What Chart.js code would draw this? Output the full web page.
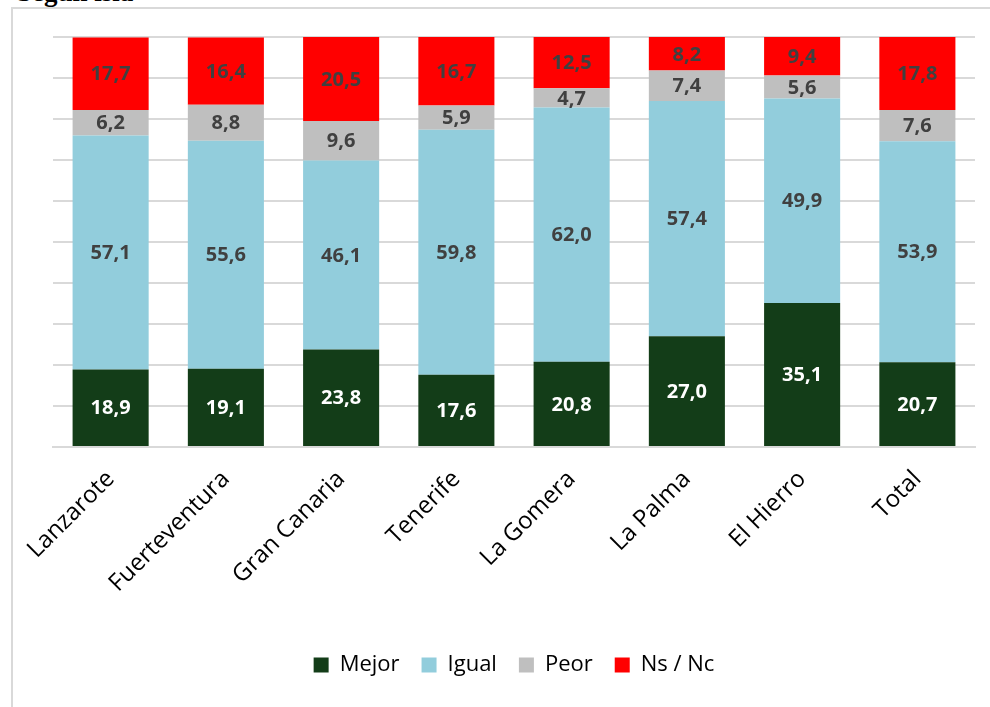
<!DOCTYPE html>
<html>
<head>
<meta charset="utf-8">
<script src="https://cdn.jsdelivr.net/npm/chart.js@4/dist/chart.umd.min.js"></script>
<style>
  html, body { margin: 0; padding: 0; background: #fff; }
  #wrap { position: relative; width: 990px; height: 707px; overflow: hidden; }
  #frame { position: absolute; left: 11px; top: 7px; width: 990px; height: 720px;
           border-left: 2px solid #d9d9d9; border-top: 2px solid #d9d9d9; }
  #title { position: absolute; left: 17px; top: -23px; font: bold 27px "Liberation Serif", serif; color: #000; }
  #cv { position: absolute; left: 0; top: 0; }
</style>
</head>
<body>
<div id="wrap">
  <div id="title">Según isla</div>
  <div id="frame"></div>
  <canvas id="cv" width="990" height="707"></canvas>
</div>
<script>
// Valoración según isla (%)
const islands = ["Lanzarote", "Fuerteventura", "Gran Canaria", "Tenerife", "La Gomera", "La Palma", "El Hierro", "Total"];
const mejor = [18.9, 19.1, 23.8, 17.6, 20.8, 27.0, 35.1, 20.7];
const igual = [57.1, 55.6, 46.1, 59.8, 62.0, 57.4, 49.9, 53.9];
const peor  = [6.2, 8.8, 9.6, 5.9, 4.7, 7.4, 5.6, 7.6];
const nsnc  = [17.7, 16.4, 20.5, 16.7, 12.5, 8.2, 9.4, 17.8];

const FONT = "'Open Sans', 'Noto Sans', sans-serif";

// draw the value inside each bar segment
const barLabels = {
  id: "barLabels",
  afterDatasetsDraw(chart) {
    const ctx = chart.ctx;
    ctx.save();
    ctx.font = "bold 20px " + FONT;
    ctx.textAlign = "center";
    ctx.textBaseline = "middle";
    chart.data.datasets.forEach((ds, i) => {
      const meta = chart.getDatasetMeta(i);
      meta.data.forEach((bar, j) => {
        const y = (bar.y + bar.base) / 2;
        ctx.fillStyle = i === 0 ? "#ffffff" : "#404040";
        ctx.fillText(ds.data[j].toFixed(1).replace(".", ","), bar.x, y + 1);
      });
    });
    ctx.restore();
  }
};

new Chart(document.getElementById("cv"), {
  type: "bar",
  data: {
    labels: islands,
    datasets: [
      { label: "Mejor", data: mejor, backgroundColor: "#133d18" },
      { label: "Igual", data: igual, backgroundColor: "#92cddc" },
      { label: "Peor", data: peor, backgroundColor: "#bfbfbf" },
      { label: "Ns / Nc", data: nsnc, backgroundColor: "#ff0000" }
    ]
  },
  options: {
    responsive: false,
    animation: false,
    layout: { padding: { top: 37, left: 53, right: 15, bottom: 21 } },
    datasets: { bar: { categoryPercentage: 1, barPercentage: 0.66, borderWidth: 0 } },
    plugins: {
      legend: {
        position: "bottom",
        labels: {
          boxWidth: 15, boxHeight: 15, padding: 22,
          color: "#000", font: { family: FONT, size: 22 }
        }
      },
      tooltip: { enabled: false }
    },
    scales: {
      x: {
        stacked: true,
        grid: { display: false },
        border: { color: "#d9d9d9", width: 2 },
        ticks: {
          autoSkip: false,
          maxRotation: 45, minRotation: 45, padding: 10,
          color: "#000", font: { family: FONT, size: 24 }
        },
        afterFit(s) { s.height = 185; }
      },
      y: {
        stacked: true,
        min: 0, max: 100,
        ticks: { display: false, stepSize: 10 },
        grid: { color: "#d9d9d9", lineWidth: 2, drawTicks: false },
        border: { display: false },
        afterFit(s) { s.width = 0; }
      }
    }
  },
  plugins: [barLabels]
});
</script>
</body>
</html>
